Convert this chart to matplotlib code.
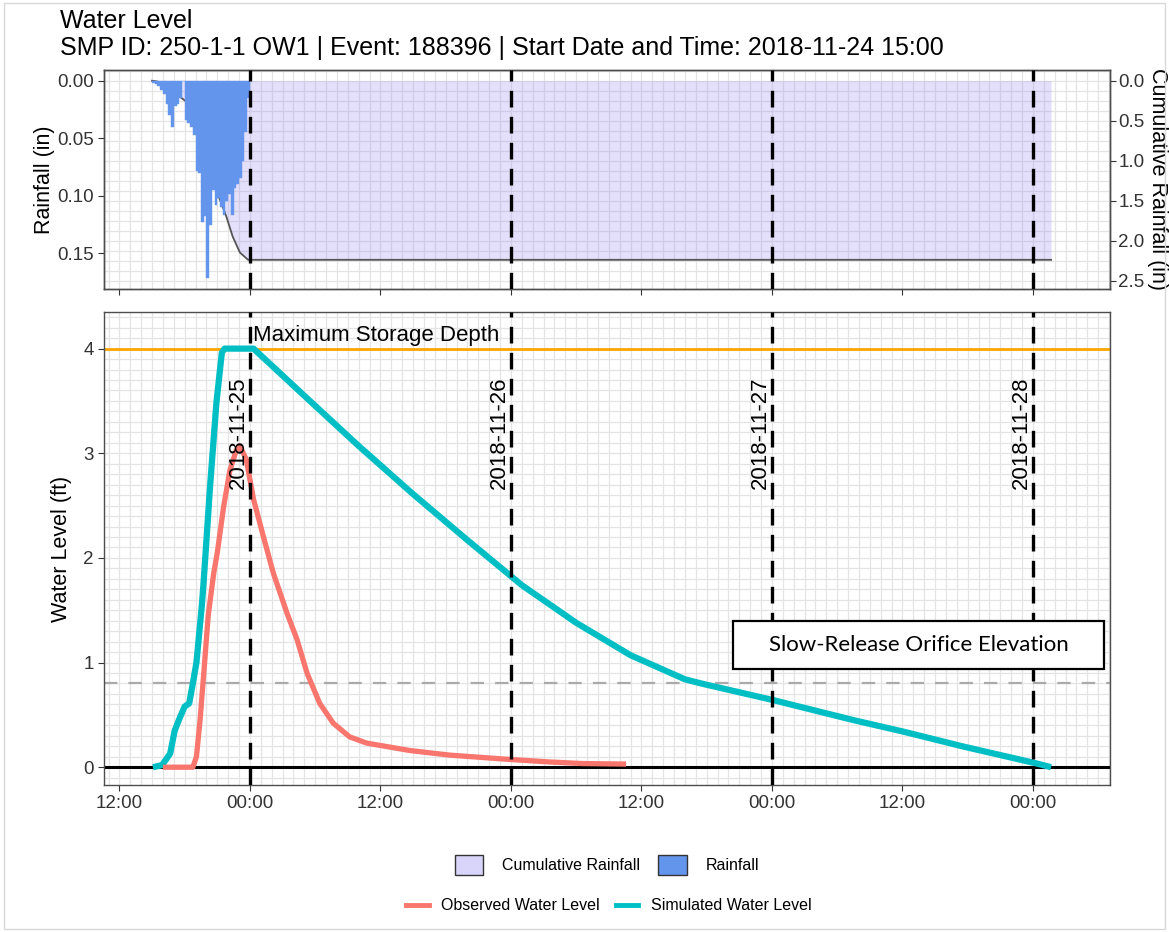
import matplotlib
matplotlib.use('Agg')
import matplotlib.pyplot as plt
import matplotlib.dates as mdates
from matplotlib.patches import Patch, Rectangle
from matplotlib.lines import Line2D
from matplotlib.ticker import MultipleLocator, FixedLocator
import pandas as pd

plt.rcParams['font.family'] = ['Liberation Sans', 'DejaVu Sans']

# rainfall, 15 minute bars from the event start
rain_start = '2018-11-24 15:00'
rain_in = [0.002, 0.003, 0.005, 0.008, 0.012, 0.020, 0.030, 0.040, 0.022, 0.020,
           0.015, 0.000, 0.034, 0.037, 0.040, 0.047, 0.079, 0.080, 0.123, 0.118,
           0.172, 0.126, 0.095, 0.108, 0.102, 0.110, 0.117, 0.105, 0.099, 0.117,
           0.093, 0.090, 0.085, 0.070, 0.045, 0.015]
rain_time = pd.date_range(rain_start, periods=len(rain_in), freq='15min')

# cumulative rainfall (in)
cum_time = pd.to_datetime([
    '2018-11-24 15:00', '2018-11-24 15:30', '2018-11-24 16:00', '2018-11-24 16:30',
    '2018-11-24 17:00', '2018-11-24 17:45', '2018-11-24 18:30', '2018-11-24 19:00',
    '2018-11-24 19:30', '2018-11-24 20:00', '2018-11-24 20:30', '2018-11-24 20:55',
    '2018-11-24 21:50', '2018-11-24 22:25', '2018-11-24 23:05', '2018-11-24 23:50',
    '2018-11-28 01:40'])
cum_in = [0.0, 0.01, 0.04, 0.09, 0.14, 0.22, 0.30, 0.42, 0.62, 0.88, 1.15, 1.37,
          1.70, 1.95, 2.15, 2.24, 2.24]

# observed water level (ft)
obs_time = pd.to_datetime([
    '2018-11-24 16:00', '2018-11-24 18:45', '2018-11-24 19:05', '2018-11-24 19:25',
    '2018-11-24 19:50', '2018-11-24 20:10', '2018-11-24 20:40', '2018-11-24 21:00',
    '2018-11-24 21:35', '2018-11-24 22:10', '2018-11-24 22:45', '2018-11-24 23:05',
    '2018-11-24 23:40', '2018-11-25 00:20', '2018-11-25 01:15', '2018-11-25 02:10',
    '2018-11-25 03:25', '2018-11-25 04:20', '2018-11-25 05:15', '2018-11-25 06:25',
    '2018-11-25 07:40', '2018-11-25 09:10', '2018-11-25 10:45', '2018-11-25 13:50',
    '2018-11-25 14:40', '2018-11-25 18:25', '2018-11-25 23:55', '2018-11-26 03:35',
    '2018-11-26 06:35', '2018-11-26 10:35'])
obs_ft = [0.0, 0.0, 0.10, 0.45, 1.00, 1.45, 1.85, 2.05, 2.49, 2.84, 3.03, 3.07,
          2.94, 2.56, 2.20, 1.85, 1.47, 1.22, 0.90, 0.61, 0.42, 0.29, 0.23, 0.175,
          0.16, 0.115, 0.074, 0.05, 0.035, 0.03]

# simulated water level (ft)
sim_time = pd.to_datetime([
    '2018-11-24 15:05', '2018-11-24 15:55', '2018-11-24 16:40', '2018-11-24 17:05',
    '2018-11-24 17:35', '2018-11-24 18:00', '2018-11-24 18:25', '2018-11-24 18:45',
    '2018-11-24 19:05', '2018-11-24 19:35', '2018-11-24 19:45', '2018-11-24 20:20',
    '2018-11-24 20:55', '2018-11-24 21:25', '2018-11-24 21:40', '2018-11-25 00:20',
    '2018-11-25 05:00', '2018-11-25 10:00', '2018-11-25 15:00', '2018-11-25 20:00',
    '2018-11-26 01:00', '2018-11-26 06:00', '2018-11-26 11:00', '2018-11-26 16:00',
    '2018-11-26 17:30', '2018-11-27 00:10', '2018-11-27 07:30', '2018-11-27 12:05',
    '2018-11-27 17:30', '2018-11-28 00:10', '2018-11-28 01:40'])
sim_ft = [0.0, 0.02, 0.13, 0.35, 0.48, 0.58, 0.61, 0.80, 1.00, 1.55, 1.78, 2.68,
          3.48, 3.96, 4.0, 4.0, 3.55, 3.07, 2.61, 2.17, 1.74, 1.38, 1.07, 0.84,
          0.80, 0.64, 0.45, 0.34, 0.20, 0.04, 0.0]

day_lines = pd.to_datetime(['2018-11-25', '2018-11-26', '2018-11-27', '2018-11-28'])
day_labels = ['2018-11-25', '2018-11-26', '2018-11-27', '2018-11-28']
max_depth = 4.0
orifice_ft = 0.8

x_min = pd.Timestamp('2018-11-24 10:35')
x_max = pd.Timestamp('2018-11-28 07:05')

rain_col = '#6495ED'
cum_col = '#7B68EE'
obs_col = '#F8766D'
sim_col = '#00BFC4'
grid_col = '#E4E4E4'
border_col = '#4D4D4D'
tick_col = '#333333'

W, H = 1169, 932
fig = plt.figure(figsize=(W / 100, H / 100), dpi=100)
fig.patches.append(Rectangle((0.003, 0.003), 0.994, 0.994, transform=fig.transFigure,
                             fill=False, edgecolor='#D8D8D8', lw=1))

ax2 = fig.add_axes([104 / W, 1 - 785 / H, 1006 / W, (785 - 312) / H])
ax1 = fig.add_axes([104 / W, 1 - 289 / H, 1006 / W, (289 - 70) / H], sharex=ax2)
axr = ax1.twinx()
ax1.set_zorder(axr.get_zorder() + 1)
ax1.patch.set_visible(False)

# ---- top panel: rainfall and cumulative rainfall
axr.fill_between(cum_time, 0, cum_in, color=cum_col, alpha=0.2, lw=0)
axr.plot(cum_time, cum_in, color='#555555', lw=1.3)
axr.set_ylim(2.605, -0.134)
axr.yaxis.set_major_locator(FixedLocator([0, 0.5, 1.0, 1.5, 2.0, 2.5]))
axr.yaxis.set_major_formatter(plt.FuncFormatter(lambda v, p: f'{v:.1f}'))
axr.yaxis.set_minor_locator(MultipleLocator(0.125))
axr.xaxis.set_visible(True)
axr.grid(True, which='both', color=grid_col, lw=0.9)
axr.set_axisbelow(True)
axr.tick_params(axis='x', which='both', length=0, labelbottom=False)
axr.tick_params(axis='y', which='minor', length=0)
axr.tick_params(axis='y', which='major', length=4, color=tick_col, labelsize=13.5,
                labelcolor=tick_col, pad=2)
axr.set_ylabel('Cumulative Rainfall (in)', fontsize=15.5, rotation=-90, labelpad=2,
               va='bottom')

ax1.bar(rain_time, rain_in, width=15 / 1440, align='edge', color=rain_col,
        edgecolor=rain_col, lw=0.3)
ax1.set_ylim(0.1813, -0.0093)
ax1.yaxis.set_major_locator(FixedLocator([0, 0.05, 0.10, 0.15]))
ax1.yaxis.set_major_formatter(plt.FuncFormatter(lambda v, p: f'{v:.2f}'))
ax1.set_ylabel('Rainfall (in)', fontsize=15.5, labelpad=1)
ax1.tick_params(axis='y', length=4, color=tick_col, labelsize=13.5, labelcolor=tick_col)
ax1.tick_params(axis='x', which='major', length=4, color=tick_col, labelbottom=False)
ax1.tick_params(axis='x', which='minor', length=0)
for d in day_lines:
    ax1.axvline(d, color='black', lw=2.4, ls=(0, (5, 2.8)), zorder=5)

# ---- bottom panel: water level
ax2.axhline(max_depth, color='#FFA500', lw=2.0, zorder=2)
ax2.axhline(0, color='black', lw=2.2, zorder=2)
ax2.axhline(orifice_ft, color='#AAAAAA', lw=1.6, ls=(0, (6, 5)), zorder=2)
ax2.plot(sim_time, sim_ft, color=sim_col, lw=4.5, solid_capstyle='butt',
         solid_joinstyle='round', zorder=3)
ax2.plot(obs_time, obs_ft, color=obs_col, lw=3.8, solid_capstyle='butt',
         solid_joinstyle='round', zorder=4)
for d, lab in zip(day_lines, day_labels):
    ax2.axvline(d, color='black', lw=2.4, ls=(0, (5, 2.8)), zorder=5)
    ax2.text(d - pd.Timedelta(hours=1.1), 3.2, lab, rotation=90, ha='center',
             va='center', fontsize=16, zorder=6)
ax2.text(day_lines[0] + pd.Timedelta(hours=0.3), 4.13, 'Maximum Storage Depth',
         fontsize=16, ha='left', va='center', zorder=6)

ax2.set_xlim(x_min, x_max)
ax2.set_ylim(-0.17, 4.35)
ax2.xaxis.set_major_locator(mdates.HourLocator(byhour=[0, 12]))
ax2.xaxis.set_minor_locator(mdates.HourLocator(interval=1))
ax2.xaxis.set_major_formatter(mdates.DateFormatter('%H:%M'))
ax2.yaxis.set_major_locator(MultipleLocator(1))
ax2.yaxis.set_minor_locator(MultipleLocator(0.1))
ax2.grid(True, which='both', color=grid_col, lw=0.9)
ax2.set_axisbelow(True)
ax2.tick_params(which='major', length=4, color=tick_col, labelsize=13.5,
                labelcolor=tick_col)
ax2.tick_params(which='minor', length=0)
ax2.set_ylabel('Water Level (ft)', fontsize=15.5, labelpad=8)

for a in (ax1, axr, ax2):
    for s in a.spines.values():
        s.set_color(border_col)
        s.set_linewidth(1.0)

# orifice note box
fig.patches.append(Rectangle((733 / W, 1 - 669 / H), 371 / W, 48 / H,
                             transform=fig.transFigure, facecolor='white',
                             edgecolor='black', lw=1.6, zorder=10))
fig.text(918.5 / W, 1 - 645 / H, 'Slow-Release Orifice Elevation', family='Lato',
         fontsize=16, ha='center', va='center', zorder=11)

# titles
fig.text(60 / W, 1 - 21 / H, 'Water Level', fontsize=18, ha='left', va='center')
fig.text(60 / W, 1 - 48 / H,
         'SMP ID: 250-1-1 OW1 | Event: 188396 | Start Date and Time: 2018-11-24 15:00',
         fontsize=18, ha='left', va='center')

# legends
h1 = [Patch(facecolor='#D9D5FA', edgecolor='#333333'),
      Patch(facecolor=rain_col, edgecolor='#333333')]
fig.legend(h1, ['Cumulative Rainfall', 'Rainfall'], ncol=2, loc='center',
           bbox_to_anchor=(607 / W, 1 - 865 / H), frameon=False, fontsize=11.5,
           handlelength=1.8, handleheight=1.6, handletextpad=1.2, columnspacing=1.1)
h2 = [Line2D([], [], color=obs_col, lw=3.5), Line2D([], [], color=sim_col, lw=3.5)]
fig.legend(h2, ['Observed Water Level', 'Simulated Water Level'], ncol=2,
           loc='center', bbox_to_anchor=(609 / W, 1 - 906 / H), frameon=False,
           fontsize=11.5, handlelength=1.4, handletextpad=0.8, columnspacing=1.0)

fig.savefig('out.png', dpi=100)
